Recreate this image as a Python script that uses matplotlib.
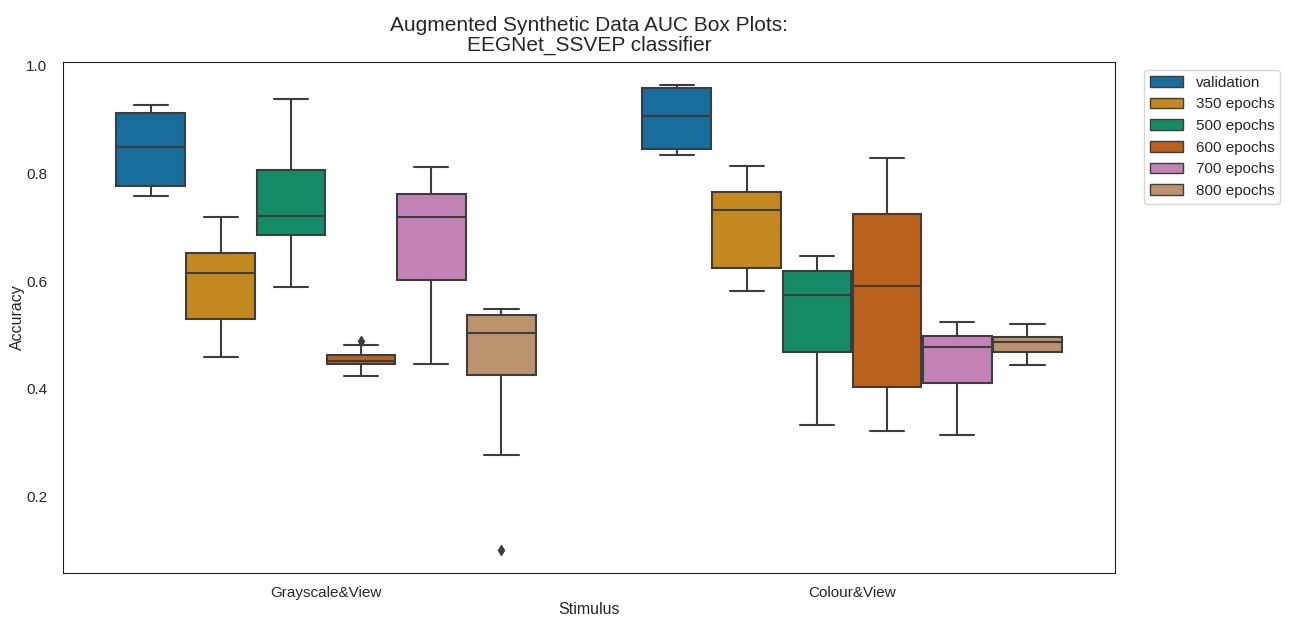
import numpy as np
import matplotlib
matplotlib.use("Agg")
import matplotlib.pyplot as plt
import matplotlib.patches as mpatches
import seaborn as sns

# --- Data ---
stimuli = ["Grayscale&View", "Colour&View"]
models = ["validation", "350 epochs", "500 epochs", "600 epochs", "700 epochs", "800 epochs"]

# per stimulus, one value per model
whislo = [[0.758, 0.460, 0.589, 0.423, 0.446, 0.278],
          [0.834, 0.581, 0.333, 0.322, 0.314, 0.445]]
q1 = [[0.776, 0.530, 0.685, 0.446, 0.602, 0.425],
      [0.845, 0.625, 0.468, 0.403, 0.410, 0.469]]
med = [[0.849, 0.616, 0.721, 0.451, 0.720, 0.504],
       [0.906, 0.733, 0.574, 0.591, 0.478, 0.487]]
q3 = [[0.912, 0.652, 0.806, 0.462, 0.762, 0.537],
      [0.959, 0.766, 0.619, 0.724, 0.498, 0.497]]
whishi = [[0.928, 0.720, 0.938, 0.481, 0.813, 0.548],
          [0.964, 0.814, 0.646, 0.828, 0.525, 0.520]]
fliers = [[[], [], [], [0.488], [], [0.101]],
          [[], [], [], [], [], []]]

# --- Style ---
sns.set_style("white")
plt.rcParams["font.family"] = ["Liberation Sans", "DejaVu Sans"]
colors = [sns.desaturate(c, 0.75) for c in sns.color_palette("colorblind", 6)]
edge = "#3d3d3d"

fig = plt.figure(figsize=(12.94, 6.19), dpi=100)
ax = fig.add_axes([0.0487, 0.0743, 0.813, 0.8255])

n = len(models)
width = 0.8 / n
for i, stim in enumerate(stimuli):
    for j in range(n):
        pos = i - 0.4 + width * (j + 0.5)
        stats = [dict(whislo=whislo[i][j], q1=q1[i][j], med=med[i][j],
                      q3=q3[i][j], whishi=whishi[i][j], fliers=fliers[i][j])]
        ax.bxp(stats, positions=[pos], widths=width * 0.98, patch_artist=True,
               boxprops=dict(facecolor=colors[j], edgecolor=edge, linewidth=1.5),
               medianprops=dict(color=edge, linewidth=1.5),
               whiskerprops=dict(color=edge, linewidth=1.5),
               capprops=dict(color=edge, linewidth=1.5),
               flierprops=dict(marker="d", markerfacecolor=edge, markeredgecolor=edge,
                               markersize=5),
               manage_ticks=False)

ax.set_xlim(-0.5, len(stimuli) - 0.5)
ax.set_xticks(range(len(stimuli)))
ax.set_xticklabels(stimuli)
ax.set_yticks([0.2, 0.4, 0.6, 0.8, 1.0])
ax.tick_params(axis="x", labelsize=11, pad=6)
ax.tick_params(axis="y", labelsize=11, pad=8)
ax.set_xlabel("Stimulus", fontsize=11.5, labelpad=1)
ax.set_ylabel("Accuracy", fontsize=11.5, labelpad=1)
ax.set_title("Augmented Synthetic Data AUC Box Plots:\nEEGNet_SSVEP classifier", fontsize=15,
             linespacing=1.05, pad=8)
for s in ax.spines.values():
    s.set_color("#222222")

handles = [mpatches.Patch(facecolor=colors[j], edgecolor=edge, label=models[j]) for j in range(n)]
ax.legend(handles=handles, bbox_to_anchor=(1.02, 1), loc="upper left", fontsize=11,
          handlelength=2.2)

fig.savefig("out.png", dpi=100)
